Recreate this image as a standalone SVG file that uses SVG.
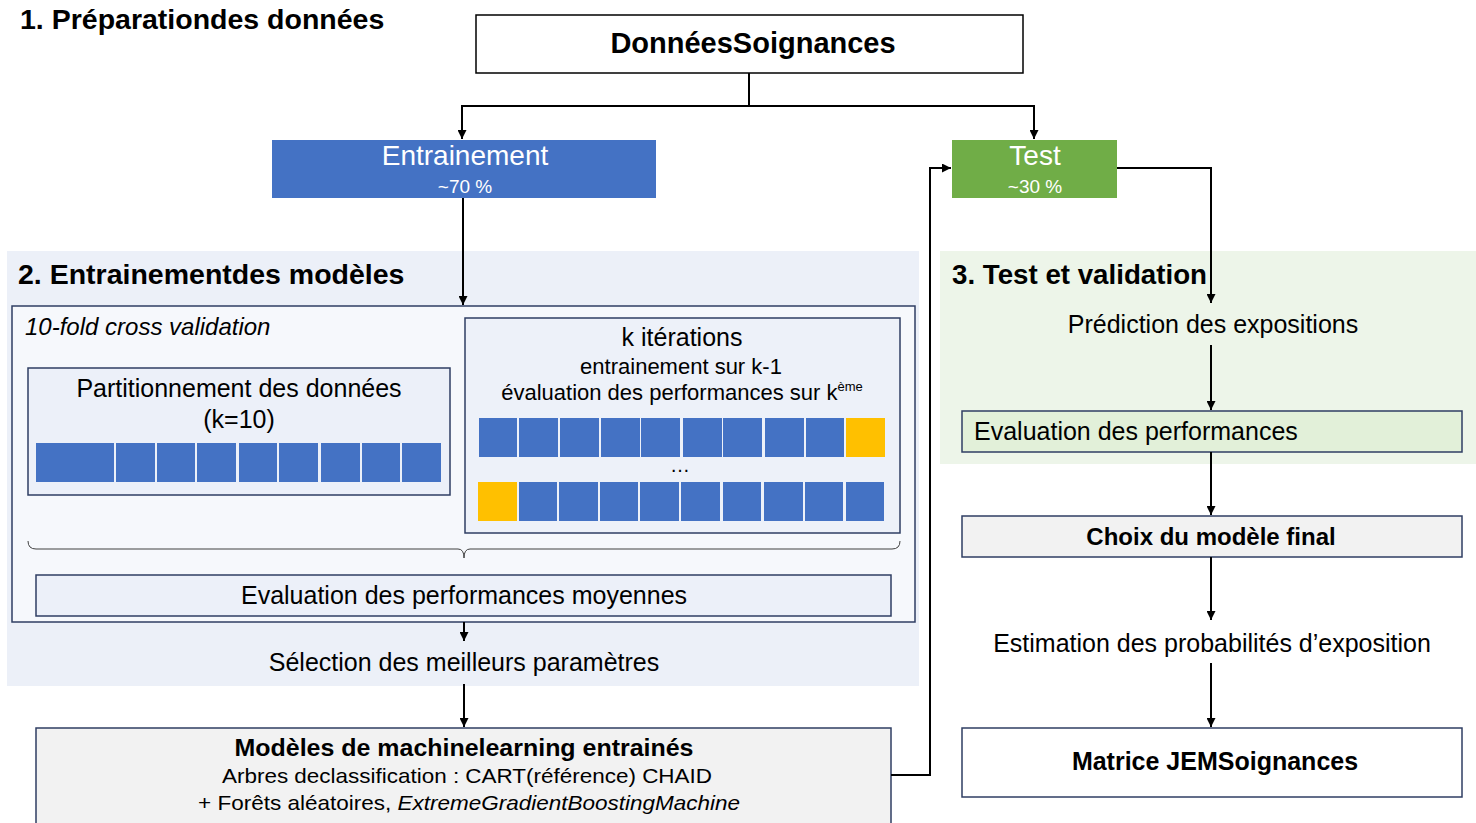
<svg xmlns="http://www.w3.org/2000/svg" width="1476" height="823" viewBox="0 0 1476 823">
<defs>
<marker id="arr" viewBox="0 0 10 10" refX="10" refY="5" markerWidth="9" markerHeight="9" markerUnits="userSpaceOnUse" orient="auto">
<path d="M0,0 L10,5 L0,10 z" fill="#000"/>
</marker>
<style>
text{font-family:"Liberation Sans",Arial,sans-serif;fill:#000}
.t{font-size:28.5px;font-weight:bold}
.r{font-size:25px}
.c{text-anchor:middle}
.b{font-weight:bold}
.w{fill:#fff}
.box{stroke:#2F3E63;stroke-width:1.5}
.blue{fill:#4472C4}
.yel{fill:#FFC000}
.con{fill:none;stroke:#000;stroke-width:2}
</style>
</defs>
<rect width="1476" height="823" fill="#fff"/>

<g id="section2-bg"><rect x="7" y="251" width="912" height="435" fill="#ECF0F8"/></g>
<g id="section3-bg"><rect x="940" y="251" width="536" height="213" fill="#EDF5E9"/></g>

<g id="title1"><text class="t" x="20" y="29" font-size="29.5">1. Préparationdes données</text></g>
<g id="title2"><text class="t" x="18" y="284">2. Entrainementdes modèles</text></g>
<g id="title3"><text class="t" x="952" y="284" textLength="255" lengthAdjust="spacingAndGlyphs">3. Test et validation</text></g>

<g id="donnees">
<rect x="476" y="15" width="547" height="58" fill="#fff" stroke="#000" stroke-width="1.5"/>
<text class="c b" x="753" y="53" font-size="29">DonnéesSoignances</text>
</g>

<g id="entrainement">
<rect x="272" y="140" width="384" height="58" fill="#4472C4"/>
<text class="c w" x="465" y="165" font-size="28">Entrainement</text>
<text class="c w" x="465" y="193" font-size="19">~70 %</text>
</g>

<g id="test">
<rect x="952" y="140" width="165" height="58" fill="#70AD47"/>
<text class="c w" x="1035" y="165" font-size="28">Test</text>
<text class="c w" x="1035" y="193" font-size="19">~30 %</text>
</g>

<g id="crossval">
<rect class="box" x="12" y="306" width="903" height="316" fill="#F6F8FC"/>
<text x="25" y="335" font-size="24" font-style="italic">10-fold cross validation</text>
</g>

<g id="partition">
<rect class="box" x="28" y="368" width="422" height="127" fill="#ECF0F9"/>
<text class="c r" x="239" y="397">Partitionnement des données</text>
<text class="c r" x="239" y="428">(k=10)</text>
<rect class="blue" x="36" y="443" width="78" height="39"/>
<rect class="blue" x="116" y="443" width="39" height="39"/>
<rect class="blue" x="157" y="443" width="38" height="39"/>
<rect class="blue" x="197" y="443" width="39" height="39"/>
<rect class="blue" x="239" y="443" width="38" height="39"/>
<rect class="blue" x="279" y="443" width="39" height="39"/>
<rect class="blue" x="321" y="443" width="39" height="39"/>
<rect class="blue" x="362" y="443" width="38" height="39"/>
<rect class="blue" x="402" y="443" width="39" height="39"/>
</g>

<g id="iterations">
<rect class="box" x="465" y="318" width="435" height="215" fill="#EDF1F9"/>
<text class="c r" x="682" y="346">k itérations</text>
<text class="c" x="681" y="374" font-size="22">entrainement sur k-1</text>
<text class="c" x="682" y="400" font-size="22">évaluation des performances sur k<tspan font-size="13" dy="-9">ème</tspan></text>
<rect class="blue" x="479" y="418" width="38" height="39"/>
<rect class="blue" x="519" y="418" width="39" height="39"/>
<rect class="blue" x="560" y="418" width="39" height="39"/>
<rect class="blue" x="601" y="418" width="39" height="39"/>
<rect class="blue" x="641" y="418" width="39" height="39"/>
<rect class="blue" x="683" y="418" width="39" height="39"/>
<rect class="blue" x="723" y="418" width="39" height="39"/>
<rect class="blue" x="765" y="418" width="39" height="39"/>
<rect class="blue" x="806" y="418" width="38" height="39"/>
<rect class="yel" x="846" y="418" width="39" height="39"/>
<text class="c" x="680" y="472" font-size="20">…</text>
<rect class="yel" x="478" y="482" width="39" height="39"/>
<rect class="blue" x="519" y="482" width="38" height="39"/>
<rect class="blue" x="559" y="482" width="39" height="39"/>
<rect class="blue" x="600" y="482" width="38" height="39"/>
<rect class="blue" x="640" y="482" width="39" height="39"/>
<rect class="blue" x="681" y="482" width="39" height="39"/>
<rect class="blue" x="723" y="482" width="38" height="39"/>
<rect class="blue" x="764" y="482" width="39" height="39"/>
<rect class="blue" x="805" y="482" width="38" height="39"/>
<rect class="blue" x="846" y="482" width="38" height="39"/>
</g>

<g id="brace">
<path d="M28,541 Q28,549 36,549 H458 Q464,549 464,558 Q464,549 470,549 H892 Q900,549 900,541" fill="none" stroke="#404040" stroke-width="1"/>
</g>

<g id="eval-moy">
<rect class="box" x="36" y="575" width="855" height="41" fill="#ECF0F9"/>
<text class="c r" x="464" y="604">Evaluation des performances moyennes</text>
</g>

<g id="selection"><text class="c r" x="464" y="671">Sélection des meilleurs paramètres</text></g>

<g id="modeles">
<rect class="box" x="36" y="728" width="855" height="110" fill="#F2F2F2"/>
<text class="c b" x="464" y="756" font-size="23" textLength="459" lengthAdjust="spacingAndGlyphs">Modèles de machinelearning entrainés</text>
<text class="c" x="467" y="783" font-size="21" textLength="490" lengthAdjust="spacingAndGlyphs">Arbres declassification : CART(référence) CHAID</text>
<text class="c" x="469" y="810" font-size="21" textLength="542" lengthAdjust="spacingAndGlyphs">+ Forêts aléatoires, <tspan font-style="italic">ExtremeGradientBoostingMachine</tspan></text>
</g>

<g id="prediction"><text class="c r" x="1213" y="333">Prédiction des expositions</text></g>

<g id="eval-perf">
<rect class="box" x="962" y="411" width="500" height="41" fill="#E2F0D9"/>
<text class="r" x="974" y="440">Evaluation des performances</text>
</g>

<g id="choix">
<rect class="box" x="962" y="516" width="500" height="41" fill="#F2F2F2"/>
<text class="c b" x="1211" y="545" font-size="24">Choix du modèle final</text>
</g>

<g id="estimation"><text class="c r" x="1212" y="652">Estimation des probabilités d’exposition</text></g>

<g id="matrice">
<rect class="box" x="962" y="728" width="500" height="69" fill="#fff"/>
<text class="c b" x="1215" y="770" font-size="25">Matrice JEMSoignances</text>
</g>

<g id="connectors">
<path class="con" d="M749,73 V106 H462 V139" marker-end="url(#arr)"/>
<path class="con" d="M749,106 H1034 V139" marker-end="url(#arr)"/>
<path class="con" d="M463,198 V305" marker-end="url(#arr)"/>
<path class="con" d="M464,622 V641" marker-end="url(#arr)"/>
<path class="con" d="M464,684 V727" marker-end="url(#arr)"/>
<path class="con" d="M891,775 H930 V168 H951" marker-end="url(#arr)"/>
<path class="con" d="M1117,168 H1211 V303" marker-end="url(#arr)"/>
<path class="con" d="M1211,345 V410" marker-end="url(#arr)"/>
<path class="con" d="M1211,452 V515" marker-end="url(#arr)"/>
<path class="con" d="M1211,557 V620" marker-end="url(#arr)"/>
<path class="con" d="M1211,663 V727" marker-end="url(#arr)"/>
</g>
</svg>
